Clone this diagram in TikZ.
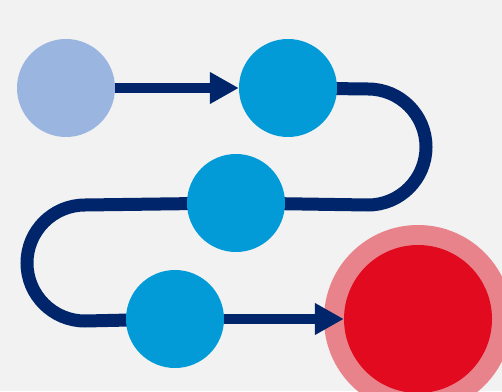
\documentclass[tikz,border=0pt]{standalone}
\usetikzlibrary{arrows.meta}
\definecolor{bgc}{HTML}{F2F2F2}
\definecolor{lightblue}{HTML}{9BB5E1}
\definecolor{stepblue}{HTML}{039BD7}
\definecolor{navy}{HTML}{00256B}
\definecolor{pinkring}{HTML}{E8838B}
\definecolor{goalred}{HTML}{E10A1F}
\pgfdeclarelayer{bglayer}
\pgfdeclarelayer{lines}
\pgfsetlayers{bglayer,lines,main}
\begin{document}
\begin{tikzpicture}[x=1pt,y=1pt,
  dot/.style={circle,inner sep=0pt,minimum size=98pt,draw=none},
  loopline/.style={draw=navy,line width=13pt},
  arrowline/.style={draw=navy,line width=10pt,-{Triangle[length=29pt,width=30pt]}}]
\begin{pgfonlayer}{bglayer}
\fill[bgc] (0,0) rectangle (502,391);
\end{pgfonlayer}
\useasboundingbox (0,0) rectangle (502,391);
\clip (0,0) rectangle (502,391);
\node[dot,fill=lightblue] (c1) at (66,303) {};
\node[dot,fill=stepblue] (c2) at (288,303) {};
\node[dot,fill=stepblue] (c3) at (236,188) {};
\node[dot,fill=stepblue] (c4) at (175,72) {};
\node[circle,inner sep=0pt,minimum size=188pt,fill=pinkring] (ring) at (418,72) {};
\node[circle,inner sep=0pt,minimum size=148pt,fill=goalred] (goal) at (418,72) {};
\begin{pgfonlayer}{lines}
\draw[loopline] (c2.center) -- (368,302) arc[start angle=90,end angle=-90,radius=58] -- (c3.center)
  -- (85,186) arc[start angle=90,end angle=270,radius=58] -- (c4.center);
\draw[arrowline] (c1.east) -- (c2.west);
\end{pgfonlayer}
\draw[arrowline] (c4.east) -- (goal.west);
\end{tikzpicture}
\end{document}
